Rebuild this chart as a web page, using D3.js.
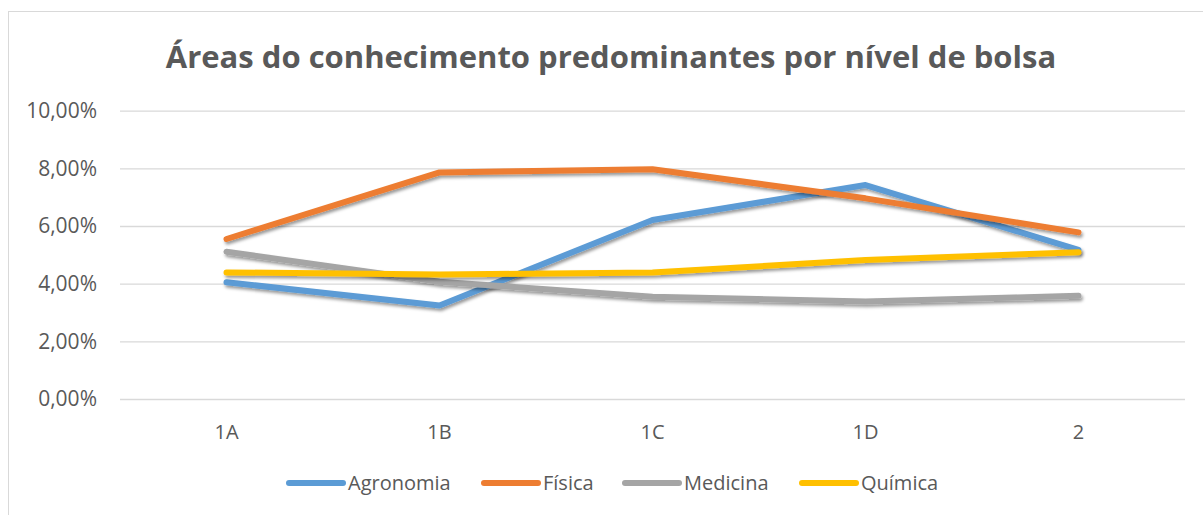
<!DOCTYPE html>
<html>
<head>
<meta charset="utf-8">
<script src="https://cdn.jsdelivr.net/npm/d3@7"></script>
<style>
  body { margin: 0; background: #fff; }
  svg { display: block; font-family: "Open Sans", "Noto Sans", sans-serif; }
</style>
</head>
<body>
<svg width="1203" height="515"></svg>
<script>
const categories = ["1A", "1B", "1C", "1D", "2"];
const seriesNames = ["Agronomia", "Física", "Medicina", "Química"];
const agronomia = [0.0405, 0.0324, 0.0621, 0.0742, 0.0517];
const fisica    = [0.0555, 0.0786, 0.0797, 0.0696, 0.0578];
const medicina  = [0.0511, 0.0407, 0.0355, 0.0338, 0.0358];
const quimica   = [0.0439, 0.0432, 0.0439, 0.0482, 0.0509];
const yTicks = [0, 0.02, 0.04, 0.06, 0.08, 0.10];
const colors = ["#5B9BD5", "#ED7D31", "#A5A5A5", "#FFC000"];

document.addEventListener("DOMContentLoaded", function(){
    let svg = d3.select("svg");
    let series = [agronomia, fisica, medicina, quimica].map((vals, i) => ({
        name: seriesNames[i], color: colors[i], values: vals
    }));

    // chart area frame
    svg.append("rect")
        .attr("x", 8.5).attr("y", 11.5)
        .attr("width", 1210).attr("height", 520)
        .style("fill", "#fff").style("stroke", "#D9D9D9");

    let defs = svg.append("defs");
    let f = defs.append("filter").attr("id", "shadow")
        .attr("x", "-5%").attr("y", "-20%").attr("width", "110%").attr("height", "160%");
    f.append("feDropShadow")
        .attr("dx", 1.5).attr("dy", 2.5).attr("stdDeviation", 1.6)
        .attr("flood-color", "#000").attr("flood-opacity", 0.4);

    let x = d3.scaleBand().domain(categories).range([120, 1185]);
    let y = d3.scaleLinear().domain([0, 0.10]).range([399, 110.7]);
    let fmt = v => d3.format(".2f")(v * 100).replace(".", ",") + "%";

    svg.append("text")
        .attr("x", 611).attr("y", 68)
        .attr("text-anchor", "middle")
        .style("font-size", "31px").style("font-weight", 700)
        .style("fill", "#595959")
        .text("Áreas do conhecimento predominantes por nível de bolsa");

    let yAxis = svg.append("g")
        .attr("transform", "translate(120,0)")
        .call(d3.axisLeft(y).tickValues(yTicks).tickFormat(fmt).tickSize(-1065).tickPadding(23));
    yAxis.select(".domain").remove();
    yAxis.selectAll("line").style("stroke", "#D9D9D9").style("stroke-width", 1.3);
    yAxis.selectAll("text").style("font-size", "21px").style("fill", "#595959")
        .style("font-family", "'Open Sans', sans-serif");

    let xAxis = svg.append("g")
        .attr("transform", "translate(0,399)")
        .call(d3.axisBottom(x).tickSize(0).tickPadding(26));
    xAxis.select(".domain").remove();
    xAxis.selectAll("text").style("font-size", "20px").style("fill", "#595959")
        .style("font-family", "'Open Sans', sans-serif");

    let line = d3.line()
        .x((d, i) => x(categories[i]) + x.bandwidth() / 2)
        .y(d => y(d));

    svg.append("g").selectAll("path")
        .data(series)
        .enter().append("path")
        .attr("d", d => line(d.values))
        .style("fill", "none")
        .style("stroke", d => d.color)
        .style("stroke-width", 6)
        .style("stroke-linecap", "round")
        .style("stroke-linejoin", "round")
        .attr("filter", "url(#shadow)");

    // legend
    let legendX = [289, 484, 625, 802];
    let lg = svg.append("g").selectAll("g")
        .data(series)
        .enter().append("g")
        .attr("transform", (d, i) => "translate(" + legendX[i] + ",483)");
    lg.append("line")
        .attr("x1", 0).attr("x2", 54)
        .style("stroke", d => d.color).style("stroke-width", 6)
        .style("stroke-linecap", "round");
    lg.append("text")
        .attr("x", 59).attr("dy", "0.35em")
        .style("font-size", "20px").style("fill", "#595959")
        .text(d => d.name);
});
</script>
</body>
</html>
